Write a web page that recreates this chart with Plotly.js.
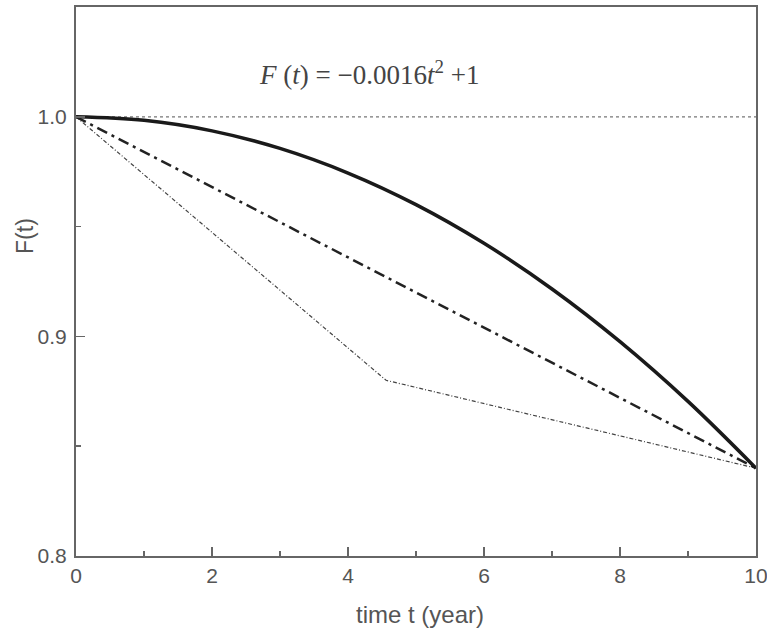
<!DOCTYPE html>
<html>
<head>
<meta charset="utf-8">
<script src="https://cdn.plot.ly/plotly-3.0.1.min.js"></script>
<style>html,body{margin:0;padding:0;background:#fff;}#chart{width:767px;height:628px;}</style>
</head>
<body>
<div id="chart"></div>
<script>
// Data
const tCurve = [0, 1, 2, 3, 4, 5, 6, 7, 8, 9, 10];
const fCurve = [1.0, 0.9984, 0.9936, 0.9856, 0.9744, 0.96, 0.9424, 0.9216, 0.8976, 0.8704, 0.84];
const tLinear = [0, 10];
const fLinear = [1.0, 0.84];
const tBroken = [0, 4.56, 10];
const fBroken = [1.0, 0.88, 0.84];
const tRef = [0, 10];
const fRef = [1.0, 1.0];
const xTicks = [0, 2, 4, 6, 8, 10];
const yTicks = [0.8, 0.9, 1.0];
const yTickText = ['0.8', '0.9', '1.0'];
const formulaText = '<i>F</i> (<i>t</i>) = −0.0016<i>t</i><sup>2</sup> +1';
const xTitle = 'time t (year)';
const yTitle = 'F(t)';

const traces = [
  {x: tRef, y: fRef, mode: 'lines', line: {color: '#777', width: 1.2, dash: '3px,3px'}, hoverinfo: 'skip'},
  {x: tBroken, y: fBroken, mode: 'lines', line: {color: '#444', width: 1.2, dash: '4px,2px,1px,2px'}},
  {x: tLinear, y: fLinear, mode: 'lines', line: {color: '#222', width: 2.5, dash: '11px,5px,3px,5px'}},
  {x: tCurve, y: fCurve, mode: 'lines', line: {color: '#1a1a1a', width: 3.5, shape: 'spline'}}
];

const sans = 'Liberation Sans, Arial, sans-serif';
const axisFont = {family: sans, size: 21, color: '#555'};

const layout = {
  width: 767, height: 628,
  margin: {l: 76, r: 11, t: 7, b: 72},
  paper_bgcolor: '#fff', plot_bgcolor: '#fff',
  showlegend: false,
  xaxis: {
    range: [0, 10], tickvals: xTicks, ticks: 'inside', ticklen: 9, tickwidth: 1.5, tickcolor: '#666',
    showline: true, linecolor: '#666', linewidth: 2, mirror: true, showgrid: false, zeroline: false,
    tickfont: axisFont, ticklabeloverflow: 'allow',
    minor: {dtick: 1, tick0: 0, ticks: 'inside', ticklen: 5, tickwidth: 1.5, tickcolor: '#666', showgrid: false}
  },
  yaxis: {
    range: [0.8, 1.05], tickvals: yTicks, ticktext: yTickText, ticks: 'inside', ticklen: 9, tickwidth: 1.5, tickcolor: '#666',
    showline: true, linecolor: '#666', linewidth: 2, mirror: true, showgrid: false, zeroline: false,
    tickfont: axisFont, ticklabeloverflow: 'allow', ticklabelstandoff: 3,
    minor: {dtick: 0.05, tick0: 0.8, ticks: 'inside', ticklen: 5, tickwidth: 1.5, tickcolor: '#666', showgrid: false}
  },
  annotations: [
    {x: 4.31, y: 1.02, xref: 'x', yref: 'y', text: formulaText, showarrow: false,
     font: {family: 'Liberation Serif, Times New Roman, serif', size: 27, color: '#444'}},
    {x: 0.506, y: -0.106, xref: 'paper', yref: 'paper', text: xTitle, showarrow: false,
     xanchor: 'center', yanchor: 'middle', font: {family: sans, size: 24, color: '#555'}},
    {x: -0.075, y: 0.583, xref: 'paper', yref: 'paper', text: yTitle, showarrow: false, textangle: -90,
     xanchor: 'center', yanchor: 'middle', font: {family: sans, size: 23, color: '#555'}}
  ]
};

Plotly.newPlot('chart', traces, layout, {staticPlot: true, displayModeBar: false});
</script>
</body>
</html>
